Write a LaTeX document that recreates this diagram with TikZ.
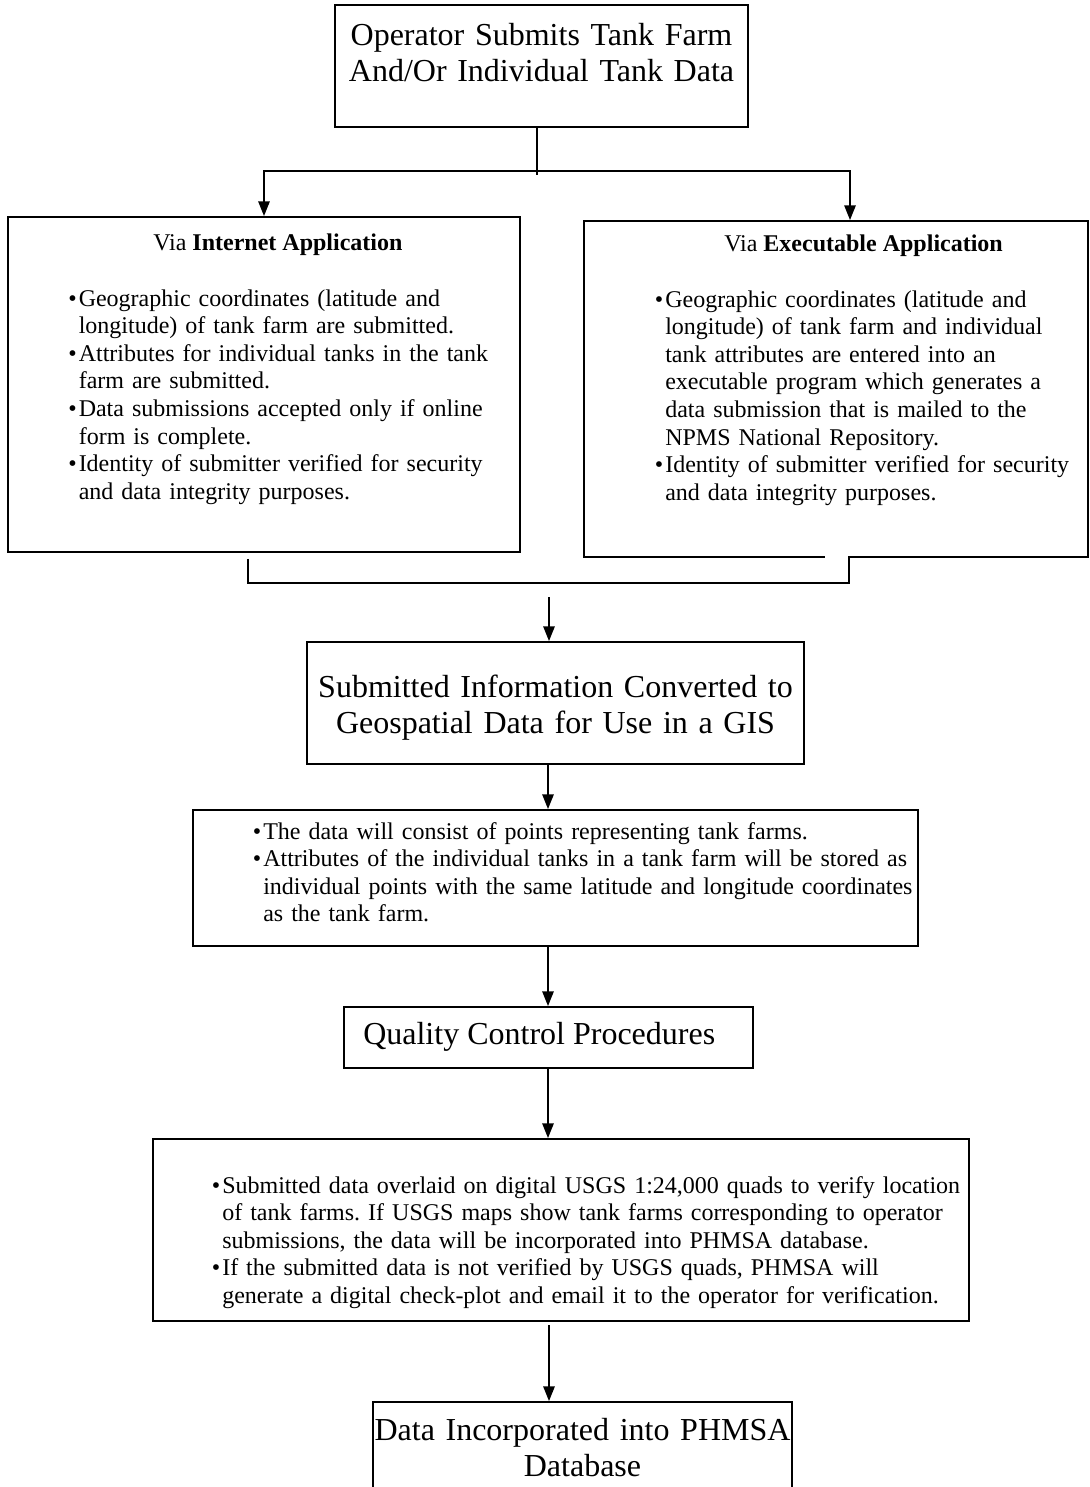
\documentclass[tikz,border=0pt]{standalone}
\usepackage{fontspec}
\setmainfont{Liberation Serif}
\usetikzlibrary{arrows.meta,fit,calc}
\frenchspacing
\newcommand\bul{\leavevmode\llap{\textbullet\hspace{1.5pt}}}
\tikzset{
  box/.style={draw, line width=1.4pt, inner sep=0pt},
  conn/.style={line width=1.25pt},
  arr/.style={conn, -{Triangle[width=8.5pt,length=11pt]}},
  big/.style={font=\fontsize{24}{27}\selectfont, inner sep=0pt},
  small/.style={font=\fontsize{18}{20.7}\selectfont, inner sep=0pt},
}
\begin{document}
\begin{tikzpicture}[x=0.75pt, y=-0.75pt]
\useasboundingbox (0,0) rectangle (1089,1487);

% boxes
\node[box, fit={(335,5) (748,127)}] (b1) {};
\node[box, fit={(8,217) (520,552)}] (b2) {};
\node[box, fit={(584,221) (1088,557)}] (b3) {};
\node[box, fit={(307,642) (804,764)}] (b4) {};
\node[box, fit={(193,810) (918,946)}] (b5) {};
\node[box, fit={(344,1007) (753,1068)}] (b6) {};
\node[box, fit={(153,1139) (969,1321)}] (b7) {};
\node[box, fit={(373,1402) (792,1500)}] (b8) {};

% texts
\node[big, text width=420pt, align=center, anchor=base] (t1) at (541.5,46)
  {Operator Submits Tank Farm\\And/Or Individual Tank Data};

\node[small, anchor=base west] (t2h) at (153,251) {Via \textbf{Internet Application}};
\node[small, text width=330pt, align=left, anchor=base west] (t2) at (78.5,306)
  {\bul Geographic coordinates (latitude and\\
   longitude) of tank farm are submitted.\\
   \bul Attributes for individual tanks in the tank\\
   farm are submitted.\\
   \bul Data submissions accepted only if online\\
   form is complete.\\
   \bul Identity of submitter verified for security\\
   and data integrity purposes.};

\node[small, anchor=base west] (t3h) at (724,252) {Via \textbf{Executable Application}};
\node[small, text width=330pt, align=left, anchor=base west] (t3) at (665,307)
  {\bul Geographic coordinates (latitude and\\
   longitude) of tank farm and individual\\
   tank attributes are entered into an\\
   executable program which generates a\\
   data submission that is mailed to the\\
   NPMS National Repository.\\
   \bul Identity of submitter verified for security\\
   and data integrity purposes.};

\node[big, text width=420pt, align=center, anchor=base] (t4) at (555.5,697)
  {Submitted Information Converted to\\Geospatial Data for Use in a GIS};

\node[small, text width=520pt, align=left, anchor=base west] (t5) at (263,839)
  {\bul The data will consist of points representing tank farms.\\
   \bul Attributes of the individual tanks in a tank farm will be stored as\\
   individual points with the same latitude and longitude coordinates\\
   as the tank farm.};

\node[big, anchor=base west] (t6) at (363,1044) {Quality Control Procedures};

\node[small, text width=580pt, align=left, anchor=base west] (t7) at (222,1193)
  {\bul Submitted data overlaid on digital USGS 1:24,000 quads to verify location\\
   of tank farms. If USGS maps show tank farms corresponding to operator\\
   submissions, the data will be incorporated into PHMSA database.\\
   \bul If the submitted data is not verified by USGS quads, PHMSA will\\
   generate a digital check-plot and email it to the operator for verification.};

\node[big, text width=420pt, align=center, anchor=base] (t8) at (582.5,1440)
  {Data Incorporated into PHMSA\\Database};

% connectors
\coordinate (j1) at (537,175);
\coordinate (hl) at (264,171);
\coordinate (hr) at (850,171);
\draw[conn] (b1.south -| j1) -- (j1);
\draw[conn, line cap=rect] (hl) -- (hr);
\draw[arr] (hl) -- (hl |- b2.north);
\draw[arr] (hr) -- (hr |- b3.north);

\coordinate (kl) at (248,583);
\coordinate (kr) at (849,583);
\draw[white, line width=2pt] (825,557) -- (848,557);
\draw[conn] ($(kl |- b2.south)+(0,6)$) -- (kl) -- (kr) -- (kr |- b3.south);

\coordinate (a1) at (549,597);
\draw[arr] (a1) -- (a1 |- b4.north);
\coordinate (cx) at (548,0);
\draw[arr] (b4.south -| cx) -- (b5.north -| cx);
\draw[arr] (b5.south -| cx) -- (b6.north -| cx);
\draw[arr] (b6.south -| cx) -- (b7.north -| cx);
\coordinate (a7) at (549,1325);
\draw[arr] (a7) -- (a7 |- b8.north);
\end{tikzpicture}
\end{document}
